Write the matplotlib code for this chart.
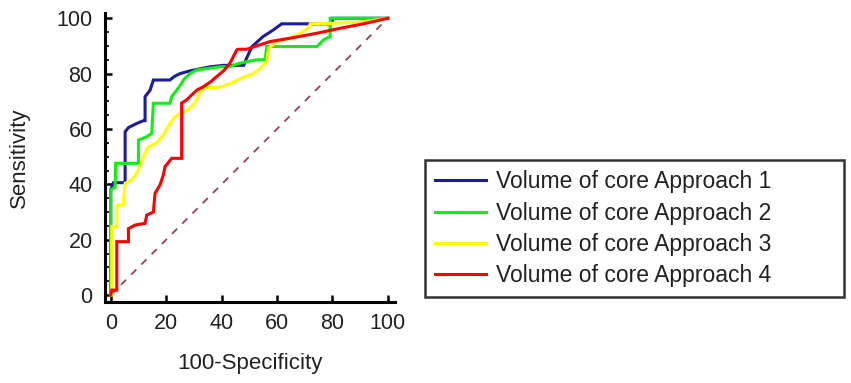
import matplotlib
matplotlib.use("Agg")
import matplotlib.pyplot as plt
from matplotlib.ticker import MultipleLocator

plt.rcParams['font.family'] = ['Liberation Sans', 'DejaVu Sans']

labels = ["Volume of core Approach 1", "Volume of core Approach 2",
          "Volume of core Approach 3", "Volume of core Approach 4"]
colors = ["#1c1c9c", "#11ee11", "#ffff00", "#ff0000"]

fpr1 = [0, 0, 1, 5.2, 5.2, 6.4, 9.4, 11.8, 12.4, 12.4, 14.2, 15.4, 21.4, 23, 25, 28.6, 32, 36, 40.7,
        48, 49, 51, 55, 58.7, 61.7, 71.4, 78.6, 80, 80, 100]
tpr1 = [0, 38, 40.6, 40.6, 59, 60.5, 62, 63, 63, 71.7, 74, 77.7, 77.7, 79, 80, 81, 81.7, 82.5, 83,
        83, 85.5, 89.8, 93.4, 95.8, 98, 98, 98, 98.5, 100, 100]

fpr2 = [0, 0, 0, 1.6, 1.8, 10, 10, 13, 14.8, 15.4, 21.4, 22, 23.8, 25.6, 26.2, 28.6, 31, 36, 39.5,
        43, 45.5, 49, 52.7, 55.7, 56.3, 74.4, 76.8, 79.2, 79.2, 100]
tpr2 = [0, 26, 38, 39, 47.6, 47.6, 56, 57.2, 58.4, 69.3, 69.3, 71.7, 74, 76.5, 77.7, 80, 81.3, 82, 82.5,
        82.5, 83.5, 84.3, 85, 85, 89.8, 89.8, 92.2, 93.4, 100, 100]

fpr3 = [0, 0.4, 0.4, 2.2, 2.2, 4.5, 5.2, 7.6, 9.4, 12.4, 13.6, 16.6, 19, 20.8, 23.2, 25.6, 28,
        29.8, 31, 32.3, 34, 38.3, 40.7, 44.3, 48, 51.5, 54, 56.3, 57, 60, 64.7, 68.3, 71.4, 72,
        80, 90, 97.3, 100]
tpr3 = [0, 0, 24.7, 24.7, 32.5, 32.5, 40.4, 41.6, 44, 51.2, 53.6, 55, 57.8, 61, 64.5, 65.7, 67,
        68.7, 70.5, 73.5, 75, 75, 75.5, 77, 78.7, 80, 82, 84.3, 89.2, 91.6, 92.8, 94.6, 96.4, 98,
        98.2, 98.6, 99.6, 100]

fpr4 = [0, 0.4, 2.2, 2.2, 6.4, 6.4, 8.8, 12.4, 13, 15.4, 16, 17.8, 19, 19.6, 22, 25.6, 25.6, 27.4,
        29.2, 31, 33.5, 36, 38.3, 40.7, 43, 45.5, 46, 49, 57.5, 64.7, 74.4, 82.8, 91.2, 100]
tpr4 = [0, 1.8, 1.8, 19.3, 19.3, 24, 25.3, 25.9, 28.9, 30, 36.8, 39.8, 43.4, 46.4, 49.4, 49.4, 69.4, 70.5,
        72.3, 74, 75.3, 77, 79, 81, 83.7, 88.6, 88.8, 88.8, 91.6, 92.8, 94.6, 96.4, 98, 100]

xs = [fpr1, fpr2, fpr3, fpr4]
ys = [tpr1, tpr2, tpr3, tpr4]

diag = [0, 100]

fig = plt.figure(figsize=(8.51, 3.83), dpi=100)
ax = fig.add_axes([105/851, 1-301.7/383, 290/851, (301.7-13.3)/383])

ax.plot(diag, diag, linestyle=(0, (4, 4)), color="#9c3f50", lw=1.3, zorder=1)
for x, y, c, l in zip(xs, ys, colors, labels):
    ax.plot(x, y, color=c, lw=2.2, label=l, solid_joinstyle='miter')

ax.set_xlim(-2.06, 102.6)
ax.set_ylim(-2.4, 101.8)
ax.set_xticks([0, 20, 40, 60, 80, 100])
ax.set_yticks([0, 20, 40, 60, 80, 100])
ax.yaxis.set_minor_locator(MultipleLocator(5))
for s in ['top', 'right']:
    ax.spines[s].set_visible(False)
for s in ['left', 'bottom']:
    ax.spines[s].set_linewidth(2.2)
ax.tick_params(axis='both', which='major', direction='in', length=5, width=1.8,
               labelsize=15.5, labelcolor='#222222')
ax.tick_params(axis='x', which='major', pad=8)
ax.tick_params(axis='y', which='major', pad=9)
ax.tick_params(axis='y', which='minor', direction='in', length=3, width=1.2)
ax.set_xlabel("100-Specificity", fontsize=16, color='#222222', labelpad=14)
ax.set_ylabel("Sensitivity", fontsize=16, color='#222222', labelpad=19)

leg = ax.legend(loc='upper left', bbox_to_anchor=(425/851, 1-298/383, 419/851, 138/383),
                bbox_transform=fig.transFigure, mode='expand', fontsize=16.5, frameon=True,
                fancybox=False, edgecolor='black', borderaxespad=0,
                handlelength=2.2, handletextpad=0.45, labelspacing=0.36,
                borderpad=0.45)
leg.get_frame().set_linewidth(1.8)
for t in leg.get_texts():
    t.set_color('#222222')

fig.savefig("out.png", dpi=100)
